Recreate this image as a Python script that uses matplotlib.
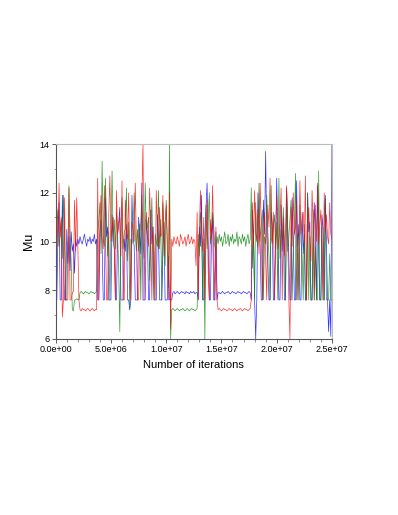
import numpy as np
import matplotlib
matplotlib.use("Agg")
import matplotlib.pyplot as plt
from matplotlib.ticker import FormatStrFormatter, MultipleLocator

# trace of Mu for three chains, one value every 1e5 iterations
step = 1e5

blue = [
    7.6, 7.6, 10.4, 11.6, 7.6, 7.6, 11.9, 9.4, 7.6, 7.6,
    10.5, 9.1, 10.2, 8.8, 10.4, 9.6, 9.9, 8.7, 10.1, 9.8,
    10.1, 9.9, 10.2, 10.0, 9.9, 10.1, 10.3, 10.0, 9.8, 10.1,
    10.0, 10.2, 9.9, 10.1, 10.0, 10.3, 9.9, 10.1, 7.6, 7.6,
    10.3, 10.9, 9.8, 7.6, 7.6, 11.8, 10.2, 10.6, 7.6, 7.6,
    7.6, 11.1, 10.0, 9.7, 7.6, 7.6, 10.3, 10.8, 11.4, 7.6,
    7.6, 7.6, 10.1, 9.6, 10.7, 7.6, 7.6, 7.2, 7.6, 11.9,
    10.2, 9.8, 7.6, 7.6, 7.6, 11.0, 10.4, 9.5, 12.4, 7.6,
    7.6, 7.6, 10.9, 10.2, 7.6, 7.6, 11.3, 9.9, 10.6, 7.6,
    7.6, 7.6, 11.1, 10.3, 7.6, 7.6, 7.6, 9.6, 10.8, 7.6,
    7.6, 7.6, 9.4, 7.6, 7.6, 7.6, 7.9, 7.95, 7.85, 7.9,
    7.95, 7.9, 7.85, 7.9, 7.95, 7.9, 7.9, 7.85, 7.95, 7.9,
    7.9, 7.85, 7.95, 7.9, 7.9, 7.95, 7.85, 7.9, 7.9, 7.6,
    10.6, 9.8, 11.9, 7.6, 7.6, 10.2, 11.4, 12.4, 10.0, 7.6,
    7.6, 10.1, 11.0, 7.6, 7.6, 10.4, 7.6, 7.9, 7.9, 7.85,
    7.9, 7.95, 7.9, 7.85, 7.9, 7.9, 7.95, 7.9, 7.85, 7.9,
    7.95, 7.9, 7.9, 7.85, 7.9, 7.95, 7.9, 7.9, 7.85, 7.9,
    7.95, 7.9, 7.9, 7.85, 7.9, 7.95, 7.9, 7.6, 11.3, 10.2,
    7.6, 6.0, 7.6, 12.0, 10.6, 9.9, 7.6, 7.6, 11.7, 10.3,
    13.7, 10.2, 9.1, 7.6, 7.6, 11.2, 10.7, 7.6, 7.6, 9.7,
    12.6, 10.4, 7.6, 7.6, 11.5, 9.6, 10.9, 7.6, 7.6, 12.2,
    10.6, 9.3, 7.6, 7.6, 11.8, 10.1, 7.6, 7.6, 12.5, 9.8,
    10.7, 7.6, 7.6, 11.2, 9.5, 10.3, 7.6, 7.6, 12.0, 10.4,
    10.8, 7.6, 7.6, 9.9, 11.6, 10.2, 7.6, 12.3, 9.6, 7.6,
    7.6, 11.1, 10.5, 7.6, 11.9, 10.0, 7.6, 6.3, 7.6, 6.1,
    14.0,
]

green = [
    8.2, 10.6, 11.3, 9.8, 10.2, 10.9, 9.3, 11.9, 10.2, 7.6,
    7.6, 9.7, 12.3, 10.4, 9.1, 7.2, 7.15, 7.6, 7.6, 7.65,
    7.6, 7.6, 7.9, 7.95, 7.9, 7.85, 7.9, 7.95, 7.9, 7.9,
    7.85, 7.9, 7.95, 7.9, 7.9, 7.85, 7.9, 7.95, 10.4, 10.8,
    11.6, 9.5, 13.3, 10.1, 9.8, 12.6, 10.8, 9.4, 10.4, 7.6,
    10.2, 12.9, 10.0, 10.9, 9.7, 11.2, 10.3, 8.9, 6.3, 10.6,
    11.8, 9.7, 10.4, 10.5, 12.2, 9.2, 10.8, 7.2, 10.1, 9.9,
    10.2, 12.0, 10.3, 9.6, 10.5, 9.6, 10.7, 7.6, 11.9, 10.1,
    9.3, 12.4, 10.5, 10.6, 11.0, 8.4, 10.2, 11.8, 9.5, 7.6,
    10.3, 10.0, 9.8, 12.1, 9.7, 10.9, 7.6, 11.6, 10.4, 9.0,
    11.7, 10.2, 8.1, 14.0, 6.0, 7.2, 7.25, 7.2, 7.15, 7.2,
    7.25, 7.2, 7.15, 7.2, 7.2, 7.25, 7.2, 7.15, 7.2, 7.25,
    7.2, 7.15, 7.2, 7.25, 7.2, 7.2, 7.15, 7.2, 7.25, 10.3,
    9.4, 11.2, 10.6, 7.6, 10.1, 6.0, 11.5, 9.7, 10.8, 12.0,
    9.9, 10.4, 11.2, 10.6, 9.8, 9.6, 10.2, 9.9, 10.3, 10.0,
    10.2, 9.8, 10.1, 10.4, 9.9, 10.0, 10.3, 9.8, 10.2, 10.0,
    10.3, 9.9, 10.1, 10.0, 10.4, 9.8, 10.2, 10.1, 9.9, 10.3,
    10.0, 10.2, 9.8, 10.1, 10.3, 9.9, 10.1, 12.2, 8.9, 10.5,
    7.6, 11.6, 10.1, 9.8, 12.4, 10.0, 10.7, 11.3, 7.6, 10.2,
    9.9, 11.9, 10.4, 9.4, 7.6, 12.3, 10.0, 10.6, 11.1, 9.7,
    10.8, 7.6, 12.6, 9.3, 10.5, 10.1, 11.4, 10.1, 7.6, 12.1,
    9.6, 10.2, 10.9, 11.7, 7.6, 9.9, 10.4, 12.8, 7.6, 10.3,
    7.6, 11.5, 10.0, 9.4, 7.6, 10.7, 7.6, 7.6, 12.0, 7.6,
    10.2, 7.6, 7.6, 11.3, 7.6, 9.8, 7.6, 7.6, 12.9, 7.6,
    7.6, 10.6, 7.6, 7.6, 11.8, 7.6, 7.6, 7.6, 9.5, 7.6,
    7.6,
]

red = [
    10.6, 11.4, 9.8, 12.4, 10.2, 11.0, 6.9, 7.6, 11.8, 7.6,
    7.6, 7.6, 12.2, 7.6, 7.6, 7.9, 7.95, 11.7, 9.6, 11.8,
    9.9, 7.6, 7.2, 7.15, 7.25, 7.2, 7.2, 7.15, 7.2, 7.25,
    7.2, 7.15, 7.2, 7.25, 7.2, 7.15, 7.2, 7.2, 12.6, 7.6,
    10.8, 11.9, 10.2, 9.7, 12.3, 10.4, 7.6, 7.6, 11.1, 12.7,
    10.0, 10.6, 11.0, 9.9, 7.6, 12.1, 10.3, 10.7, 11.0, 9.4,
    12.5, 7.6, 7.6, 11.7, 10.4, 10.1, 12.0, 9.6, 7.6, 10.8,
    10.5, 10.0, 12.4, 9.9, 7.6, 7.6, 10.2, 10.8, 12.0, 14.0,
    7.6, 10.7, 11.2, 10.3, 9.8, 12.2, 10.4, 7.6, 10.6, 9.5,
    7.6, 12.1, 10.6, 9.7, 11.4, 10.2, 10.3, 11.9, 9.4, 10.8,
    11.5, 9.6, 7.6, 12.0, 6.4, 10.1, 9.8, 10.2, 10.0, 9.9,
    10.2, 10.0, 9.8, 10.3, 10.1, 9.9, 10.0, 10.2, 9.8, 10.1,
    10.3, 9.9, 10.0, 10.2, 9.9, 10.1, 10.0, 9.0, 11.2, 7.6,
    10.5, 12.1, 10.4, 9.6, 11.0, 7.6, 10.2, 11.7, 8.8, 7.6,
    10.9, 10.1, 12.3, 9.9, 7.6, 10.6, 7.6, 7.2, 7.25, 7.2,
    7.15, 7.2, 7.25, 7.2, 7.2, 7.15, 7.2, 7.25, 7.2, 7.2,
    7.15, 7.2, 7.25, 7.2, 7.15, 7.2, 7.2, 7.25, 7.2, 7.15,
    7.2, 7.25, 7.2, 7.2, 7.15, 7.2, 7.25, 7.6, 11.6, 9.8,
    12.1, 10.4, 10.0, 11.3, 9.5, 12.4, 10.7, 7.6, 10.0, 11.2,
    9.3, 7.6, 11.5, 10.6, 12.6, 10.2, 9.9, 11.2, 7.6, 10.4,
    11.9, 9.7, 10.1, 10.8, 12.2, 7.6, 11.0, 9.4, 10.5, 12.3,
    10.2, 7.6, 6.0, 11.4, 9.8, 12.0, 10.3, 10.6, 11.7, 7.6,
    9.6, 12.5, 10.3, 10.9, 11.2, 9.9, 12.7, 7.6, 10.5, 11.4,
    10.1, 9.2, 12.1, 10.8, 7.6, 11.5, 10.0, 12.4, 9.9, 10.7,
    11.3, 9.6, 7.6, 12.0, 10.4, 11.1, 10.2, 9.9, 11.6, 10.3,
    10.1,
]

chains = [(blue, "#0000ff"), (green, "#008000"), (red, "#ff0000")]

plt.rcParams['font.family'] = ['Liberation Sans', 'DejaVu Sans']

fig = plt.figure(figsize=(3.98, 5.15), dpi=100)
ax = fig.add_axes([0.14, 0.342, 0.694, 0.378])

for vals, col in chains:
    it = np.arange(len(vals)) * step
    ax.plot(it, vals, color=col, lw=0.5, alpha=0.8)

ax.set_xlim(0, 2.5e7)
ax.set_ylim(6, 14)
ax.xaxis.set_major_locator(MultipleLocator(5e6))
ax.xaxis.set_minor_locator(MultipleLocator(1e6))
ax.xaxis.set_major_formatter(FormatStrFormatter('%.1e'))
ax.yaxis.set_major_locator(MultipleLocator(2))
ax.yaxis.set_minor_locator(MultipleLocator(1))
ax.tick_params(which='major', length=3, width=0.6, labelsize=6.5, pad=1.5, color='#444444')
ax.tick_params(which='minor', length=1.8, width=0.5, color='#666666')

for side in ['left', 'bottom']:
    ax.spines[side].set_color('#555555')
    ax.spines[side].set_linewidth(0.8)
for side in ['top', 'right']:
    ax.spines[side].set_color('#bbbbbb')
    ax.spines[side].set_linewidth(0.8)

ax.set_xlabel('Number of iterations', fontsize=8, labelpad=4)
ax.set_ylabel('Mu', fontsize=9, labelpad=3)

fig.savefig('out.png', dpi=100)
